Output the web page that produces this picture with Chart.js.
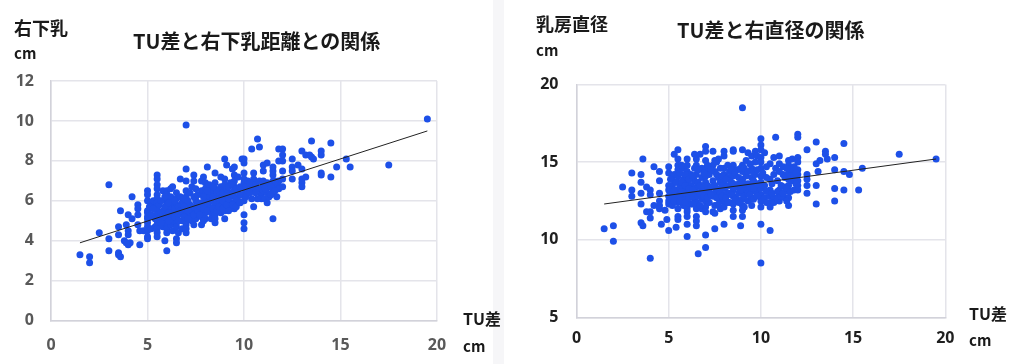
<!DOCTYPE html>
<html>
<head>
<meta charset="utf-8">
<script src="https://cdn.jsdelivr.net/npm/chart.js@4"></script>
<style>
html, body { margin: 0; padding: 0; background: #fff; width: 1024px; height: 364px; overflow: hidden; }
body { position: relative; font-family: "Noto Sans CJK JP", sans-serif; }
.box { position: absolute; top: 0; height: 364px; }
#box-left { left: 0; width: 493px; }
#box-right { left: 504px; width: 520px; }
#strip { position: absolute; left: 493px; top: 0; width: 11px; height: 364px; background: #f6f6f8; }
.lbl { position: absolute; white-space: nowrap; color: #1a1a1a; font-weight: 700; line-height: 1; }
.title { font-size: 20px; }
.jp { font-size: 18px; }
.tu { font-size: 16px; }
.cm { font-size: 15px; }
</style>
</head>
<body>
<div id="box-left" class="box"><canvas id="chart-left" width="493" height="364"></canvas></div>
<div id="strip"></div>
<div id="box-right" class="box"><canvas id="chart-right" width="520" height="364"></canvas></div>

<div class="lbl jp" style="left:14px;top:18px">右下乳</div>
<div class="lbl cm" style="left:14px;top:45px">cm</div>
<div class="lbl title" style="left:133px;top:31px">TU差と右下乳距離との関係</div>
<div class="lbl tu" style="left:463px;top:310px">TU差</div>
<div class="lbl cm" style="left:463px;top:338px">cm</div>

<div class="lbl jp" style="left:536px;top:14px">乳房直径</div>
<div class="lbl cm" style="left:536px;top:42px">cm</div>
<div class="lbl title" style="left:677px;top:20px">TU差と右直径の関係</div>
<div class="lbl tu" style="left:969px;top:305px">TU差</div>
<div class="lbl cm" style="left:969px;top:332px">cm</div>

<script>
// 軸の目盛
const xTicks = [0, 5, 10, 15, 20];
const leftYTicks = [0, 2, 4, 6, 8, 10, 12];
const rightYTicks = [5, 10, 15, 20];

// 近似直線 (両端)
const leftTrend = [[1.5, 3.9], [19.5, 9.5]];
const rightTrend = [[1.5, 12.3], [19.5, 15.2]];

// TU差 vs 右下乳距離
const leftPoints = [
  [1.5,3.3],[2,3.2],[2,2.9],[2.5,4.4],[3,6.8],[3,4.1],[3,3.5],[3.5,3.4],[3.5,3.3],[3.6,3.2],
  [3.5,4.7],[3.5,4.3],[3.6,5.5],[3.9,4.8],[4,5.3],[4.2,5.1],[4.2,6.2],[4,4.5],[4,4.3],[3.8,4],
  [4,3.8],[4.1,3.9],[3.9,3.9],[4.6,3.8],[4.5,5.8],[4.5,5.6],[4.5,5.3],[4.5,4.8],[4.6,4.5],[4.8,4.5],
  [5,6.5],[5,6.3],[5,6],[5,5.5],[5,5.4],[5,5.2],[5,5.1],[5,4.9],[5,4.7],[5,4.5],[5,4.2],[5,4.1],
  [5.2,4.6],[5.2,5.8],[5.3,6],[5.3,5.2],[5.4,4.7],
  [5.5,7.3],[5.5,7.1],[5.5,6.8],[5.5,6.6],[5.5,6.3],[5.5,6.1],[5.5,5.9],[5.5,5.7],[5.5,5.5],[5.5,5.3],[5.5,5],[5.5,4.8],[5.5,4.6],[5.5,4.4],[5.5,4.2],
  [5.8,6.5],[5.8,5.5],[5.8,5.1],[5.8,4.7],
  [5.9,4],[6,6.5],[6,6.3],[6,6],[6,5.8],[6,5.6],[6,5.3],[6,5.1],[6,4.9],[6,4.6],[6,4.4],[6,3.5],
  [6.2,6.6],[6.2,6.2],[6.2,5.7],[6.2,5.2],[6.2,4.8],[6.3,6.7],[6.3,5.9],[6.3,5.4],[6.3,5],[6.3,4.5],
  [6.5,6.4],[6.5,6.1],[6.5,5.8],[6.5,5.5],[6.5,5.2],[6.5,4.9],[6.5,4.7],[6.5,4.1],[6.5,3.9],[6.6,4.4],
  [6.7,7.1],[6.8,5.9],[6.8,5.4],[6.8,5],[6.8,4.6],
  [7,9.8],[7,7.6],[7,7],[7,6.5],[7,6.2],[7,5.9],[7,5.6],[7,5.3],[7,5],[7,4.8],[7,4.6],[7,4.4],
  [7.2,6.4],[7.2,5.8],[7.2,5.2],[7.3,6.7],[7.3,5.5],[7.3,5],
  [7.4,7.3],[7.4,7],[7.4,4.8],[7.5,6.6],[7.5,6.2],[7.5,6],[7.5,5.7],[7.5,5.4],[7.5,5.1],
  [7.8,7],[7.8,6.5],[7.8,5.9],[7.8,5.5],[7.8,5.2],[7.8,4.8],
  [7.9,7.2],[8,6.9],[8,6.6],[8,6.3],[8,6],[8,5.8],[8,5.6],[8,5.4],[8,5.1],[8.1,7.7],
  [8.2,6.8],[8.2,6.2],[8.2,5.7],[8.3,6.5],[8.3,6],[8.3,5.4],[8.3,5.1],
  [8.5,7.4],[8.5,6.9],[8.5,6.6],[8.5,6.3],[8.5,6.1],[8.5,5.8],[8.5,5.6],[8.5,5.3],[8.5,5.1],[8.5,4.9],
  [8.8,7.2],[8.8,6.7],[8.8,6.2],[8.8,5.8],[8.8,5.4],[9,8.1],[9,7.1],[9,6.8],[9,6.5],[9,6.2],[9,6],[9,5.7],[9,5.5],[9,5.1],
  [9.1,7.8],[9.3,6.9],[9.3,6.4],[9.3,5.9],[9.3,5.6],[9.4,7.6],[9.5,7.7],[9.5,7.3],[9.5,7],[9.5,6.7],[9.5,6.5],[9.5,6.2],[9.5,5.9],[9.5,5.6],
  [9.7,7.2],[9.7,6.5],[9.7,6],[9.9,8.1],[10,8.1],[10,7.9],[10,7.4],[10,7.1],[10,6.9],[10,6.6],[10,6.3],[10,6],[10,5.3],[10,4.9],[10,4.6],
  [10.2,7],[10.2,6.5],[10.4,8.6],[10.4,6.7],[10.4,6.1],[10.5,7.4],[10.5,7.1],[10.5,6.5],[10.5,5.7],
  [10.7,9.1],[10.8,8.7],[10.8,7],[10.8,6.6],[10.9,6.3],[10.9,6.1],[11,7.8],[11,7.5],[11,7],[11,6.8],[11,6.5],[11.1,6.1],
  [11.2,7.9],[11.2,6.9],[11.2,6.4],[11.2,5.9],[11.3,6.7],[11.3,6.2],[11.5,7.7],[11.5,7.5],[11.5,7.3],[11.5,7],[11.5,6.8],[11.5,6.6],[11.5,6.4],[11.5,5.1],
  [11.7,6.2],[11.7,6.8],[11.8,8.6],[11.8,8],[11.8,6.6],[11.8,7],[12,8.6],[12,8.3],[12,8],[12,7.5],[12,7.1],[12,6.7],
  [12.5,8.1],[12.5,7.7],[12.5,7.5],[12.5,7.1],[12.8,7.8],[13,8.5],[13,7.6],[13,7.1],[13,6.9],[13,6.7],[13.2,8.3],[13.2,7.2],
  [13.4,8.3],[13.5,9],[13.5,8.2],[13.6,8.1],[14,8.5],[14,8.3],[14,7.4],[14,7.3],[14.5,8.9],[14.5,7.2],
  [14.8,7.7],[15.3,8.1],[15.5,7.7],[17.5,7.8],[19.5,10.1],
  // 密集部の追加分
  [5.1,5.7],[5.2,5.3],[5.3,5.6],[5.4,5.1],[5.6,5.2],[5.6,5.8],[5.7,5.4],[5.7,6],[5.7,4.9],[5.9,5.7],[5.9,5.2],[5.9,6.2],
  [6.1,5.4],[6.1,5.9],[6.1,5],[6.4,5.6],[6.4,5.2],[6.4,6],[6.6,5.7],[6.6,5.3],[6.6,5],[6.7,6.2],[6.7,5.5],[6.9,5.7],[6.9,5.2],[6.9,6.1],
  [7.1,5.5],[7.1,6],[7.1,5.1],[7.4,5.7],[7.4,5.3],[7.4,6.2],[7.6,5.5],[7.6,5.9],[7.6,6.3],[7.7,5.3],[7.7,5.7],[7.9,5.6],[7.9,6.2],[7.9,5],
  [8.1,5.5],[8.1,5.9],[8.1,6.5],[8.4,5.6],[8.4,6.2],[8.4,6.7],[8.6,5.5],[8.6,6],[8.6,6.4],[8.7,5.7],[8.7,6.1],[8.7,6.5],[8.9,5.6],[8.9,6],[8.9,6.4],
  [9.1,5.8],[9.1,6.3],[9.1,6.6],[9.2,5.5],[9.2,6.1],[9.2,6.7],[9.4,5.8],[9.4,6.3],[9.4,6.8],[9.6,5.7],[9.6,6.1],[9.6,6.6],[9.8,6.3],[9.8,6.7],[9.8,5.9],
  [10.1,6.2],[10.1,6.7],[10.3,6.4],[10.3,6.9],[10.6,6.4],[10.6,6.8],[10.7,6.1],[11.1,6.6],[11.4,6.3],[11.4,6.7],[11.6,6.5],[11.6,7]
];

// TU差 vs 乳房直径
const rightPoints = [
  [1.5,10.7],[2,10.9],[2,9.9],[2.5,13.4],[3,14.3],[3,13.2],[3,12.8],[3.5,14.2],[3.5,13.7],[3.5,13],[3.5,12.3],[3.5,11.1],
  [3.6,15.2],[3.6,10.9],[3.8,13.4],[3.8,11.8],[4,13.2],[4,12.9],[4,11.8],[4,11.4],[4,8.8],[4.2,14.7],[4.2,12.2],
  [4.5,14.4],[4.5,13.8],[4.5,13],[4.5,12.5],[4.5,12.2],[4.5,12],[4.6,11],[4.8,11.9],[4.9,11.3],
  [5,14.7],[5,14.3],[5,13.5],[5,13.2],[5,12.8],[5,12.5],[5,12.3],[5,10.6],[5.2,13.9],[5.2,13],[5.2,12.2],[5.3,15.5],[5.3,14.2],[5.4,10.8],
  [5.5,15.8],[5.5,15.2],[5.5,14.8],[5.5,14.5],[5.5,14.1],[5.5,13.7],[5.5,13.2],[5.5,12.8],[5.5,12.4],[5.5,12],[5.5,11.5],[5.5,11.3],
  [5.8,14.6],[5.8,13.9],[5.8,13.3],[5.8,12.7],[5.8,12.2],
  [6,15.2],[6,14.8],[6,14.4],[6,14],[6,13.6],[6,13.2],[6,12.8],[6,12.4],[6,12],[6,11.8],[6,11.5],[6,11],[6,10.2],
  [6.2,14.2],[6.2,13.5],[6.2,13],[6.2,12.3],[6.4,15.5],[6.4,14.6],[6.4,13.8],[6.4,12.6],
  [6.5,15.2],[6.5,14.8],[6.5,14.2],[6.5,13.4],[6.5,13],[6.5,12.4],[6.5,12],[6.5,11.5],[6.5,11.2],[6.5,10.9],[6.6,9.1],
  [6.7,15.5],[6.8,14.6],[6.8,14],[6.8,13.2],[6.8,12.6],[6.8,12],
  [7,16],[7,15.7],[7,15.1],[7,14.5],[7,14.1],[7,13.7],[7,13.3],[7,12.9],[7,12.5],[7,12.1],[7,11.8],[7,10.3],[7,9.5],
  [7.2,14.2],[7.2,13.1],[7.2,12.4],[7.4,15.7],[7.4,14.8],[7.4,13.8],[7.4,12.8],[7.4,11.8],
  [7.5,15.1],[7.5,14.4],[7.5,13.5],[7.5,13],[7.5,12.2],[7.5,11.7],[7.5,10.7],
  [7.7,15.2],[7.7,14],[7.7,13.2],[7.8,12.5],[7.8,12],
  [8,15.7],[8,15.4],[8,14.6],[8,14.2],[8,13.7],[8,13.3],[8,12.9],[8,12.5],[8,12.1],[8,11],
  [8.2,14.8],[8.2,14],[8.2,13],[8.3,14.4],[8.3,13.5],[8.3,12.4],
  [8.5,15.8],[8.5,15.7],[8.5,14.8],[8.5,14.1],[8.5,13.6],[8.5,13.2],[8.5,12.8],[8.5,12.3],[8.5,11.9],[8.5,11.5],
  [8.7,14.5],[8.7,13.4],[8.7,12.6],[8.9,10.9],
  [9,18.5],[9,15.8],[9,14.8],[9,14.4],[9,13.9],[9,13.4],[9,13],[9,12.6],[9,12.2],[9,11.9],[9,11.5],
  [9.2,15.1],[9.2,14.1],[9.2,13.2],[9.3,15.6],[9.3,12.5],[9.5,15.4],[9.5,14.6],[9.5,14],[9.5,13.6],[9.5,13.1],[9.5,12.7],[9.5,12.2],
  [9.7,15.7],[9.7,15],[9.7,14.2],[9.7,13.3],[9.8,13],[9.8,15.4],
  [10,16.5],[10,16.1],[10,15.8],[10,15.3],[10,15],[10,14.6],[10,14.1],[10,13.7],[10,13.3],[10,12.9],[10,12.5],[10,12.1],[10,11],[10,8.5],
  [10.2,15.6],[10.2,13.5],[10.2,12.7],[10.5,14.9],[10.5,13.9],[10.5,13.2],[10.5,12.8],[10.5,12.4],[10.5,12.1],[10.5,10.6],
  [10.7,15.3],[10.7,12.7],[10.8,16.6],[10.8,14.6],[11,15.4],[11,14.9],[11,14.4],[11,13.2],[11,12.9],[11,12.5],
  [11.2,14.7],[11.2,14.2],[11.3,13.4],[11.3,12.7],[11.5,15.1],[11.5,14.8],[11.5,14.3],[11.5,13.9],[11.5,13.5],[11.5,13.1],[11.5,12.7],[11.5,12.2],
  [11.7,15.2],[11.7,14.5],[11.7,13.8],[11.8,13.2],[12,16.8],[12,16.6],[12,15.3],[12,15],[12,14.5],[12,14.2],[12,13.8],[12,13.5],[12,13.2],
  [12.5,15.8],[12.5,14.2],[12.5,13.9],[12.5,13.5],[12.5,13],[13,16.3],[13,14.9],[13,13.5],[13,12.3],[13.1,14.4],[13.2,15.1],[13.5,15.7],[13.5,15.5],[13.6,15.2],
  [14,15.3],[14,14.5],[14,13.3],[14,12.5],[14.5,16.2],[14.5,14.4],[14.5,13.2],[14.8,14.2],[15.3,13.2],[15.5,14.6],[17.5,15.5],[19.5,15.2],
  // 密集部の追加分
  [5.1,13.9],[5.2,13.5],[5.2,12.7],[5.3,13.2],[5.3,12.5],[5.4,13.7],[5.6,13.4],[5.6,12.9],[5.6,12.5],[5.6,14.3],[5.7,13.1],[5.7,13.7],[5.7,14.8],[5.9,13.5],[5.9,13],[5.9,12.4],[5.9,14.2],
  [6.1,13.3],[6.1,12.7],[6.1,13.9],[6.3,13.2],[6.3,12.8],[6.3,14.1],[6.3,12.3],[6.6,13.7],[6.6,12.8],[6.6,14.5],[6.7,13],[6.7,13.5],[6.7,12.2],[6.9,13.4],[6.9,12.8],[6.9,14.3],
  [7.1,13.5],[7.1,12.7],[7.1,14.8],[7.3,13.4],[7.3,12.9],[7.3,14.5],[7.6,13.3],[7.6,12.7],[7.6,14.2],[7.6,15],[7.7,12.3],[7.8,13.7],[7.8,13],[7.8,14.6],[7.9,13.5],[7.9,12.8],[7.9,14.1],
  [8.1,13.4],[8.1,12.7],[8.1,13.9],[8.2,12.4],[8.3,13],[8.4,13.7],[8.4,12.9],[8.4,14.5],[8.6,13.4],[8.6,12.6],[8.6,14.3],[8.8,13.6],[8.8,13],[8.8,12.4],[8.8,14],[8.9,13.2],[8.9,14.6],
  [9.1,13.6],[9.1,12.8],[9.1,12.1],[9.1,14.6],[9.3,13.6],[9.3,14.4],[9.3,13],[9.4,13.4],[9.4,12.9],[9.4,14.9],[9.6,13.8],[9.6,13.3],[9.6,12.6],[9.6,14.4],[9.8,13.6],[9.8,12.8],[9.8,14.5],
  [10.1,13.5],[10.1,14.3],[10.3,13.1],[10.3,14],[10.3,14.7],[10.3,12.4],[10.6,13.6],[10.6,13],[10.7,12.4],[10.7,14.2],[10.9,13.1],[10.9,12.6],[10.9,13.8],
  [11.1,12.8],[11.1,13.5],[11.2,13],[11.3,14],[11.4,13.3],[11.4,12.5],[11.4,14.6],[11.6,13.1],[11.6,14.1],[11.8,14.7],[11.8,14.1],[11.9,14.3],[11.9,13.6]
];

const toXY = list => list.map(p => ({ x: p[0], y: p[1] }));

const DOT_COLOR = "#1d50e8";
const GRID_COLOR = "#e4e4ea";
const BORDER_COLOR = "#d2d2da";

function makeChart(id, points, trend, yTicks, opt) {
  const ctx = document.getElementById(id).getContext("2d");
  const tickFont = { family: "'Open Sans', sans-serif", size: 16, weight: "bold" };
  const forceTicks = list => axis => { axis.ticks = list.map(v => ({ value: v })); };
  return new Chart(ctx, {
    type: "scatter",
    data: {
      datasets: [
        {
          label: "trend",
          data: toXY(trend),
          showLine: true,
          borderColor: "#222222",
          borderWidth: 1,
          pointRadius: 0
        },
        {
          label: "points",
          data: toXY(points),
          backgroundColor: DOT_COLOR,
          borderColor: DOT_COLOR,
          pointRadius: 3.5,
          pointBorderWidth: 0
        }
      ]
    },
    options: {
      responsive: false,
      animation: false,
      layout: { padding: opt.padding },
      plugins: { legend: { display: false }, title: { display: false }, tooltip: { enabled: false } },
      scales: {
        x: {
          type: "linear",
          min: 0,
          max: 20,
          afterBuildTicks: forceTicks(xTicks),
          grid: { color: GRID_COLOR, lineWidth: 1.5, drawTicks: false },
          border: { color: BORDER_COLOR, width: 1.5 },
          ticks: { color: opt.tickColor, font: tickFont, padding: opt.xTickPad, maxRotation: 0 },
          afterFit: axis => { axis.height = opt.xAxisHeight; }
        },
        y: {
          type: "linear",
          min: yTicks[0],
          max: yTicks[yTicks.length - 1],
          afterBuildTicks: forceTicks(yTicks),
          grid: { color: GRID_COLOR, lineWidth: 1.5, drawTicks: false },
          border: { color: BORDER_COLOR, width: 1.5 },
          ticks: { color: opt.tickColor, font: tickFont, padding: opt.yTickPad },
          afterFit: axis => { axis.width = opt.yAxisWidth; }
        }
      }
    }
  });
}

makeChart("chart-left", leftPoints, leftTrend, leftYTicks, {
  padding: { left: 0, top: 81, right: 56, bottom: 0 },
  tickColor: "#595959",
  xTickPad: 15,
  yTickPad: 17,
  xAxisHeight: 43.3,
  yAxisWidth: 51
});

makeChart("chart-right", rightPoints, rightTrend, rightYTicks, {
  padding: { left: 0, top: 84.5, right: 78.7, bottom: 0 },
  tickColor: "#1f1f1f",
  xTickPad: 12,
  yTickPad: 18,
  xAxisHeight: 46.7,
  yAxisWidth: 72.5
});
</script>
</body>
</html>
